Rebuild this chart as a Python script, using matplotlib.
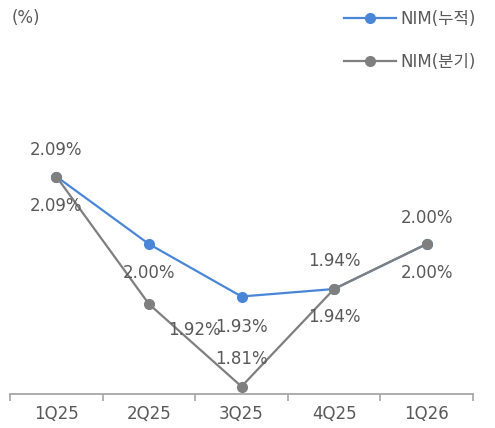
import matplotlib
matplotlib.use("Agg")
import matplotlib.pyplot as plt

plt.rcParams['font.family'] = ['DejaVu Sans', 'Noto Sans CJK KR']

categories = ["1Q25", "2Q25", "3Q25", "4Q25", "1Q26"]
nim_cum = [2.09, 2.00, 1.93, 1.94, 2.00]
nim_qtr = [2.09, 1.92, 1.81, 1.94, 2.00]
label_cum = ["2.09%", "2.00%", "1.93%", "1.94%", "2.00%"]
label_qtr = ["2.09%", "1.92%", "1.81%", "1.94%", "2.00%"]
# label offsets in points (dx, dy)
off_cum = [(0, 19), (0, -21), (0, -22), (0, 20), (0, 19)]
off_qtr = [(0, -21), (33, -19), (0, 20), (0, -20), (0, -21)]

blue = "#4a86d8"
gray = "#7f7f7f"
txt = "#595959"

fig = plt.figure(figsize=(4.95, 4.28), dpi=100)
ax = fig.add_axes([10/495, 34/428, 463/495, (394-19)/428])
x = list(range(len(categories)))
ax.plot(x, nim_cum, color=blue, lw=1.6, marker='o', ms=7, label="NIM(누적)", zorder=3)
ax.plot(x, nim_qtr, color=gray, lw=1.6, marker='o', ms=7, label="NIM(분기)", zorder=4)

for i in x:
    ax.annotate(label_cum[i], (i, nim_cum[i]), xytext=off_cum[i], textcoords='offset points',
                ha='center', va='center', fontsize=12, color=txt, zorder=5)
    ax.annotate(label_qtr[i], (i, nim_qtr[i]), xytext=off_qtr[i], textcoords='offset points',
                ha='center', va='center', fontsize=12, color=txt, zorder=5)

ax.set_xlim(-0.5, 4.5)
ax.set_ylim(1.80, 2.30)
for s in ['top', 'right', 'left']:
    ax.spines[s].set_visible(False)
ax.spines['bottom'].set_color('#a6a6a6')
ax.spines['bottom'].set_linewidth(1.3)
ax.set_yticks([])
ax.set_xticks([i - 0.5 for i in range(6)], minor=False)
ax.set_xticklabels([])
ax.set_xticks(x, minor=True)
ax.set_xticklabels(categories, minor=True, fontsize=12, color=txt)
ax.tick_params(axis='x', which='major', length=5, color='#a6a6a6', width=1.2)
ax.tick_params(axis='x', which='minor', length=0, pad=8)

fig.text(12/495, 1 - 18/428, "(%)", fontsize=12, color=txt, ha='left', va='center')

leg = ax.legend(loc='upper right', bbox_to_anchor=(1.0 + 18/463, 1 + 24/375), frameon=False,
                fontsize=12, labelcolor=txt, handlelength=3.1, handletextpad=0.3,
                labelspacing=1.5)

fig.savefig("out.png", dpi=100)
